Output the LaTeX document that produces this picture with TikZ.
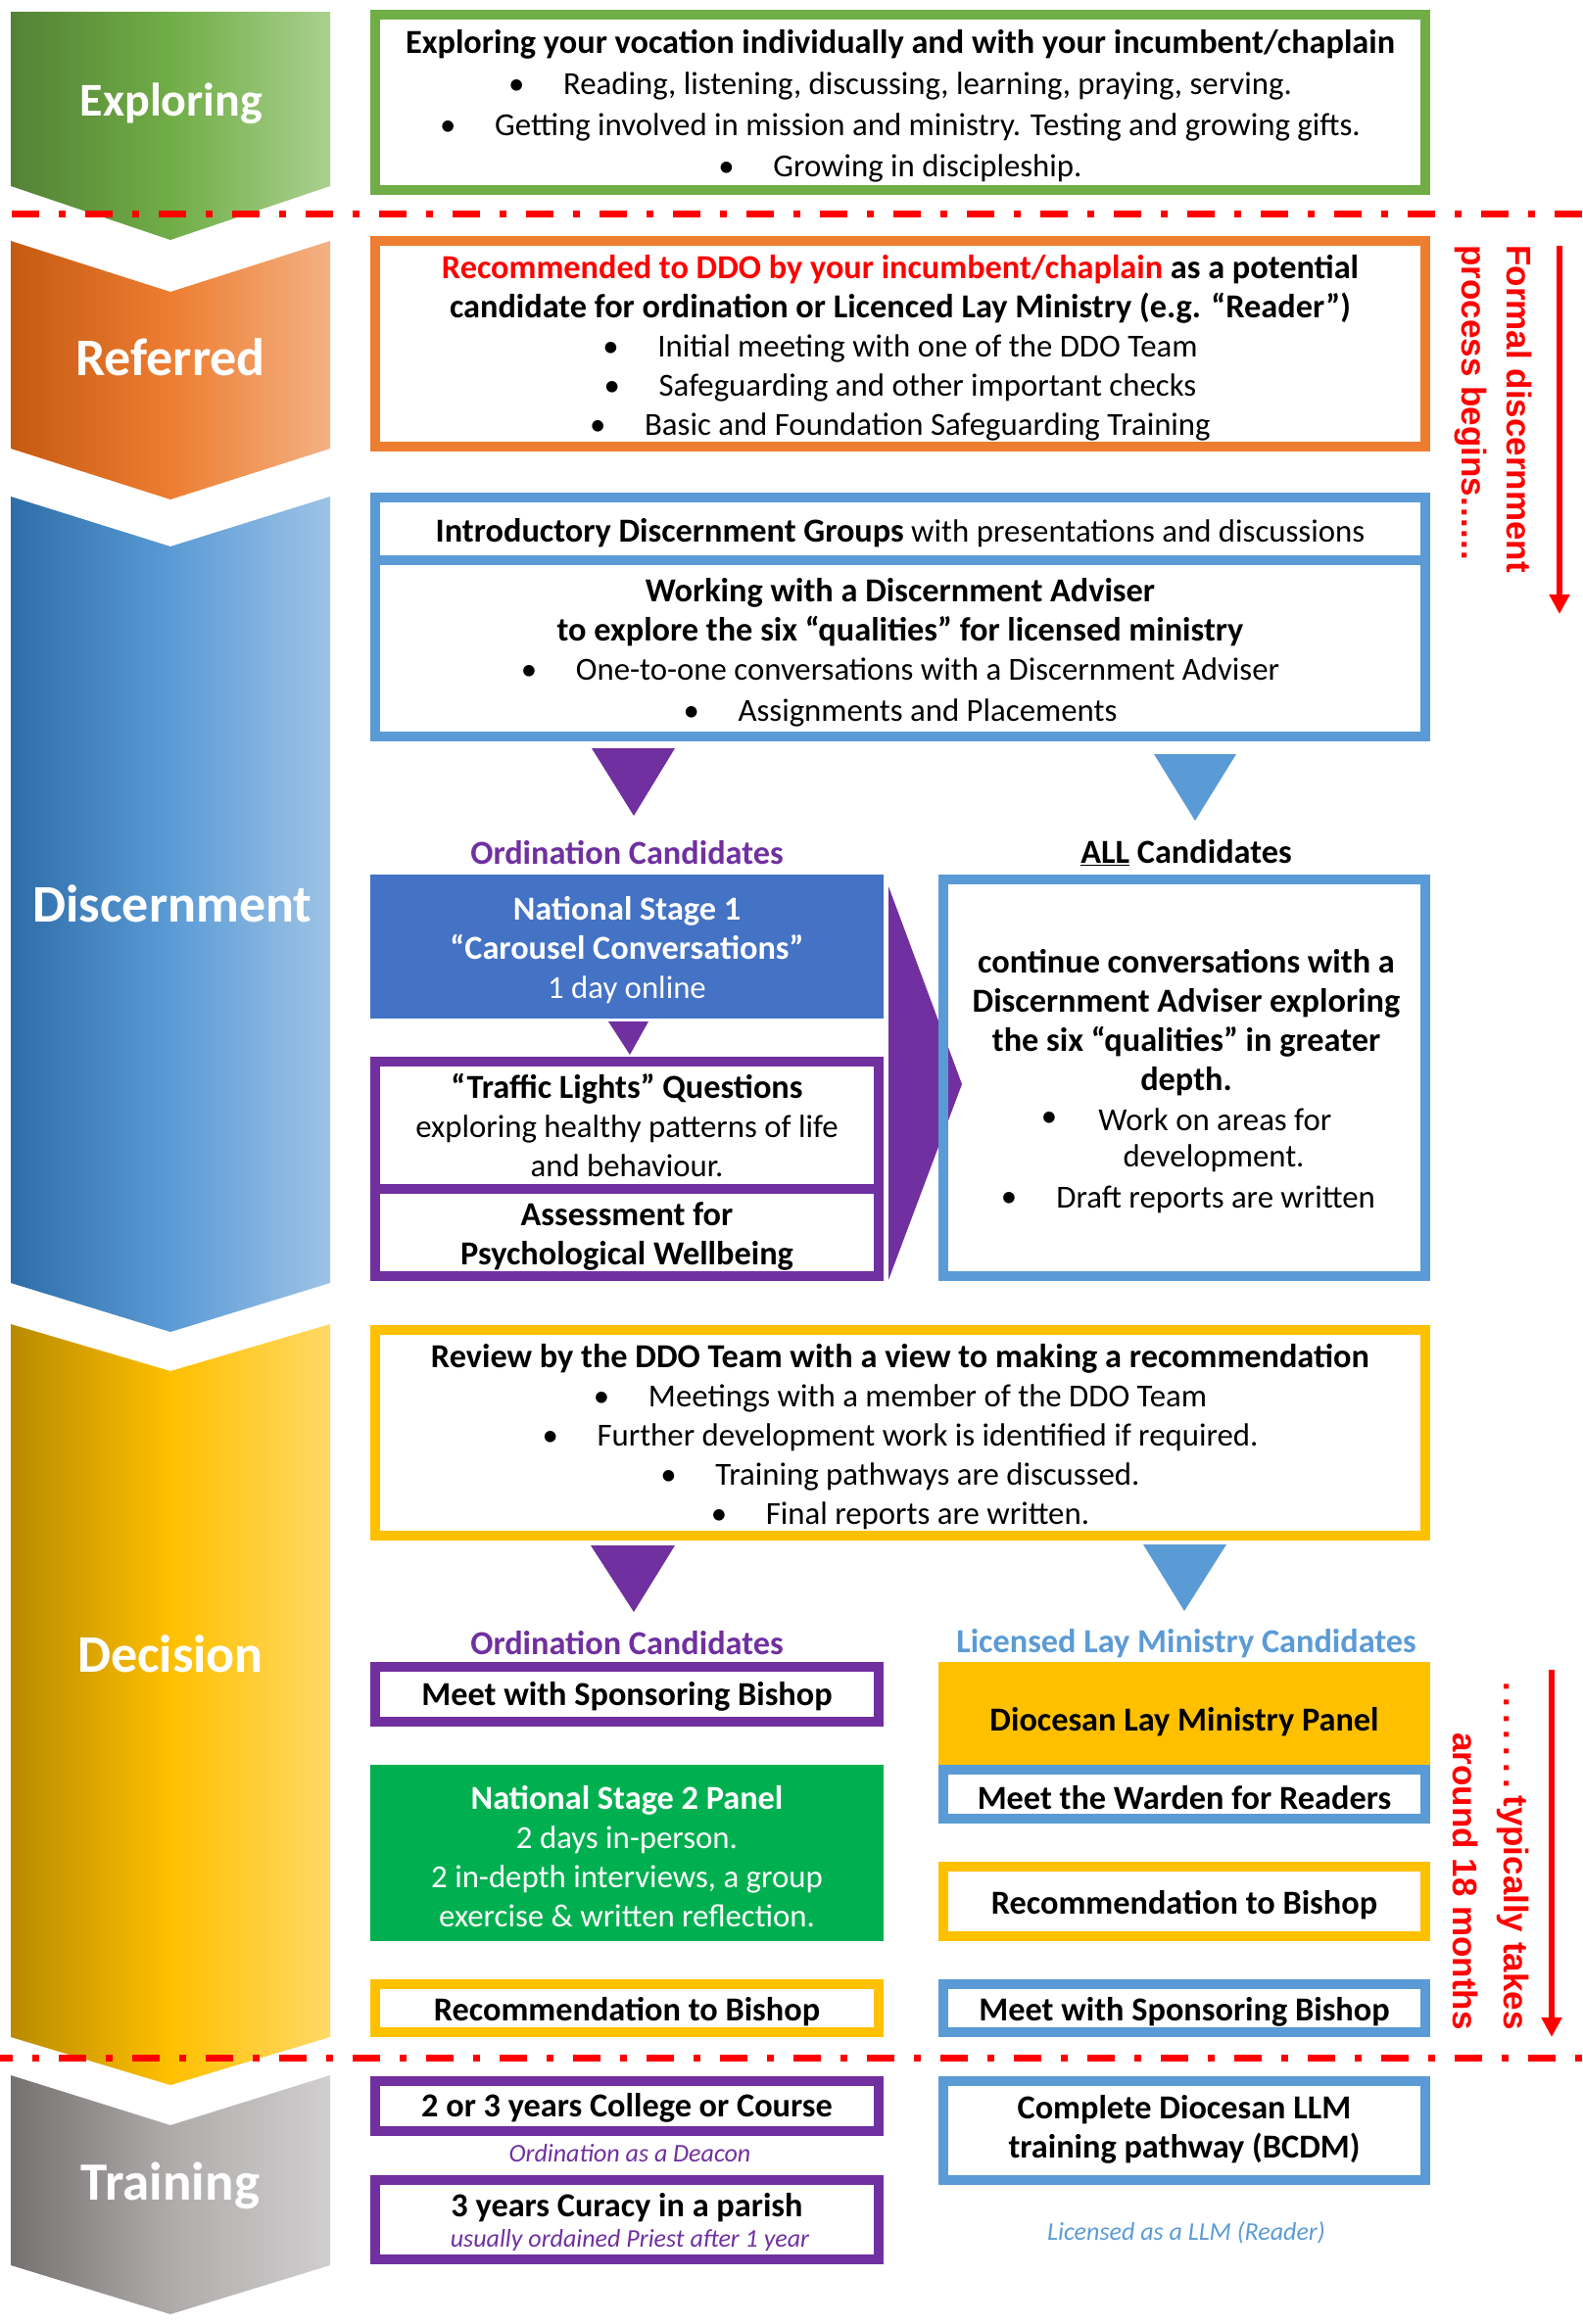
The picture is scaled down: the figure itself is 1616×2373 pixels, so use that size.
\documentclass[tikz,border=0pt]{standalone}
\usepackage{fontspec}
\setmainfont{Carlito}
\newfontfamily\arialf{Liberation Sans}
\usetikzlibrary{arrows.meta}
\definecolor{grn}{HTML}{70AD47}
\definecolor{grnL}{HTML}{548235}
\definecolor{grnR}{HTML}{A9D18E}
\definecolor{org}{HTML}{ED7D31}
\definecolor{orgL}{HTML}{C55A11}
\definecolor{orgR}{HTML}{F4B183}
\definecolor{blu}{HTML}{5B9BD5}
\definecolor{bluL}{HTML}{2E6DA8}
\definecolor{bluR}{HTML}{9DC3E6}
\definecolor{ylw}{HTML}{FFC000}
\definecolor{ylwL}{HTML}{B88A00}
\definecolor{ylwR}{HTML}{FFD966}
\definecolor{gry}{HTML}{AFABAB}
\definecolor{gryL}{HTML}{767171}
\definecolor{gryR}{HTML}{D0CECE}
\definecolor{pur}{HTML}{7030A0}
\definecolor{nsb}{HTML}{4472C4}
\definecolor{nsg}{HTML}{00B050}
\definecolor{rd}{HTML}{FF0000}
\def\bxskip{20pt}
\def\bxsh{4}
\newcommand\body{\fontsize{16.4}{20}\selectfont}
\newcommand\bodyb{\fontsize{17.15}{20}\selectfont\bfseries}
\newcommand\B[1]{{\fontsize{17.15}{\bxskip}\selectfont\bfseries #1}}
\newcommand\bul{\makebox[28pt][l]{\textbullet}}
\newcommand\rdots[2]{\foreach \i in {1,...,#1}{\makebox[#2][l]{.}}}
\newcommand\mybox[7][]{%
  \pgfmathsetmacro\bxcx{(#3+#5)/2}%
  \pgfmathsetmacro\bxcy{(#4+#6)/2}%
  \pgfmathsetmacro\bxty{(#4+#6)/2+\bxsh}%
  \pgfmathsetmacro\bxww{(#5-#3-10)*0.5}%
  \pgfmathsetmacro\bxhh{(#6-#4-10)*0.5}%
  \node[box,#1,minimum width=\bxww pt,minimum height=\bxhh pt] (#2) at (\bxcx,\bxcy) {};
  \node[txt,#1,draw=none,fill=none] (#2t) at (\bxcx,\bxty) {#7};}
\newcommand\myfill[7][]{%
  \pgfmathsetmacro\bxcx{(#3+#5)/2}%
  \pgfmathsetmacro\bxcy{(#4+#6)/2}%
  \pgfmathsetmacro\bxty{(#4+#6)/2+\bxsh}%
  \pgfmathsetmacro\bxww{(#5-#3)*0.5}%
  \pgfmathsetmacro\bxhh{(#6-#4)*0.5}%
  \node[fbox,#1,minimum width=\bxww pt,minimum height=\bxhh pt] (#2) at (\bxcx,\bxcy) {};
  \node[txt,#1,draw=none,fill=none] (#2t) at (\bxcx,\bxty) {#7};}
\tikzset{
  box/.style={draw, line width=5pt, inner sep=0pt},
  fbox/.style={draw=none, inner sep=0pt},
  txt/.style={inner sep=0pt, align=center, font=\body},
  note/.style={inner sep=0pt, font=\fontsize{13}{15}\selectfont\itshape},
  chev/.style={inner sep=0pt, anchor=base, text=white, font=\fontsize{27}{30}\selectfont\bfseries},
  rot/.style={rotate=-90, inner sep=0pt, text=rd, font=\arialf\bfseries\fontsize{17.5}{20}\selectfont},
  redarr/.style={draw=rd, line width=3pt, -{Triangle[width=10pt,length=10pt]}},
  ddash/.style={draw=rd, line width=3.5pt, dash pattern=on 14pt off 10pt on 3.5pt off 10pt},
}
\begin{document}
\begin{tikzpicture}[x=0.5pt,y=-0.5pt]
\useasboundingbox (0,0) rectangle (1616,2373);
% ---------- chevrons ----------
\shade[left color=grnL, right color=grnR, middle color=grn]
  (11,12)--(337,12)--(337,190)--(174,245)--(11,190)--cycle;
\shade[left color=orgL, right color=orgR, middle color=org]
  (11,246)--(174,298)--(337,246)--(337,458)--(174,510)--(11,458)--cycle;
\shade[left color=bluL, right color=bluR, middle color=blu]
  (11,507)--(174,558)--(337,507)--(337,1310)--(174,1360)--(11,1310)--cycle;
\shade[left color=ylwL, right color=ylwR, middle color=ylw]
  (11,1352)--(174,1400)--(337,1352)--(337,2080)--(174,2129)--(11,2080)--cycle;
\shade[left color=gryL, right color=gryR, middle color=gry]
  (11,2119)--(174,2170)--(337,2119)--(337,2313)--(174,2363)--(11,2313)--cycle;
\node[chev, font=\fontsize{24}{28}\selectfont\bfseries] (lexp) at (175,118) {Exploring};
\node[chev] (lref) at (174,383) {Referred};
\node[chev] (ldis) at (176,941) {Discernment};
\node[chev] (ldec) at (174,1707) {Decision};
\node[chev, font=\fontsize{27.5}{30}\selectfont\bfseries] (ltra) at (174,2246) {Training};
% ---------- Exploring ----------
\mybox[draw=grn, font=\def\bxskip{21pt}\fontsize{16.4}{21}\selectfont]{explbox}{378}{10}{1460}{199}{%
\B{Exploring your vocation individually and with your incumbent/chaplain}\\
\bul Reading, listening, discussing, learning, praying, serving.\\
\bul Getting involved in mission and ministry. Testing and growing gifts.\\
\bul Growing in discipleship.}
% ---------- Referred ----------
\mybox[draw=org]{refbox}{378}{241}{1460}{461}{%
\B{\textcolor{rd}{Recommended to DDO by your incumbent/chaplain} as a potential}\\
\B{candidate for ordination or Licenced Lay Ministry (e.g. “Reader”)}\\
\bul Initial meeting with one of the DDO Team\\
\bul Safeguarding and other important checks\\
\bul Basic and Foundation Safeguarding Training}
% ---------- Discernment ----------
\mybox[draw=blu]{introa}{378}{503}{1460}{577}{%
\B{Introductory Discernment Groups} with presentations and discussions}
\mybox[draw=blu]{introb}{378}{567}{1460}{757}{%
\B{Working with a Discernment Adviser}\\
\B{to explore the six “qualities” for licensed ministry}\\
\bul One-to-one conversations with a Discernment Adviser\\[1pt]
\bul Assignments and Placements}
\fill[pur] (604,764)--(689,764)--(647,833)--cycle;
\fill[blu] (1178,770)--(1262,770)--(1220,838)--cycle;
\node[txt, text=pur, font=\bodyb] (ordc1) at (640,871) {Ordination Candidates};
\node[txt, font=\bodyb] (allc) at (1211,871) {\underline{ALL} Candidates};
\myfill[fill=nsb, text=white]{ns1}{378}{893}{902}{1040}{%
\B{National Stage 1}\\ \B{“Carousel Conversations”}\\ 1 day online}
\fill[pur] (621,1043)--(662,1043)--(643,1077)--cycle;
\def\bxsh{0}
\mybox[draw=pur]{tla}{378}{1079}{902}{1219}{%
\B{“Traffic Lights” Questions}\\ exploring healthy patterns of life\\ and behaviour.}
\def\bxsh{4}
\mybox[draw=pur]{tlb}{378}{1209}{902}{1308}{%
\B{Assessment for}\\ \B{Psychological Wellbeing}}
\fill[pur] (907,905)--(982,1107)--(907,1307)--cycle;
\mybox[draw=blu]{allbox}{958}{893}{1460}{1308}{}
\node[txt, font=\bodyb] (allt) at (1211,1044) {continue conversations with a\\
Discernment Adviser exploring\\ the six “qualities” in greater\\ depth.};
\node[txt] (b1) at (1071,1143) {\textbullet};
\node[txt, anchor=west] (w1) at (1121,1143) {Work on areas for};
\node[txt] (w2) at (1239,1183) {development.};
\node[txt] (b2) at (1030,1225) {\textbullet};
\node[txt, anchor=west] (w3) at (1078,1225) {Draft reports are written};
% ---------- Decision ----------
\mybox[draw=ylw]{review}{378}{1353}{1460}{1573}{%
\B{Review by the DDO Team with a view to making a recommendation}\\
\bul Meetings with a member of the DDO Team\\
\bul Further development work is identified if required.\\
\bul Training pathways are discussed.\\
\bul Final reports are written.}
\fill[pur] (603,1578)--(689,1578)--(647,1646)--cycle;
\fill[blu] (1167,1577)--(1252,1577)--(1209,1645)--cycle;
\node[txt, text=pur, font=\bodyb] (ordc2) at (640,1678) {Ordination Candidates};
\node[txt, text=blu, font=\bodyb] (llmc) at (1211,1678) {Licensed Lay Ministry Candidates};
\def\bxsh{2}
\mybox[draw=pur]{meetl}{378}{1697}{902}{1763}{\B{Meet with Sponsoring Bishop}}
\def\bxsh{4}
\myfill[fill=ylw]{dioc}{958}{1697}{1460}{1802}{}
\node[txt, font=\bodyb] (dioct) at (1209,1758) {Diocesan Lay Ministry Panel};
\mybox[draw=blu]{warden}{958}{1802}{1460}{1862}{\B{Meet the Warden for Readers}}
\myfill[fill=nsg, text=white]{ns2}{378}{1802}{902}{1982}{%
\B{National Stage 2 Panel}\\ 2 days in-person.\\ 2 in-depth interviews, a group\\ exercise \& written reflection.}
\mybox[draw=ylw]{recr}{958}{1901}{1460}{1982}{\B{Recommendation to Bishop}}
\mybox[draw=ylw]{recl}{378}{2021}{902}{2080}{\B{Recommendation to Bishop}}
\mybox[draw=blu]{meetr}{958}{2021}{1460}{2080}{\B{Meet with Sponsoring Bishop}}
% ---------- Training ----------
\def\bxsh{2}
\mybox[draw=pur]{college}{378}{2120}{902}{2181}{\B{2 or 3 years College or Course}}
\node[note, text=pur] (deacon) at (643,2199) {Ordination as a Deacon};
\mybox[draw=pur]{curacy}{378}{2221}{902}{2312}{}
\node[txt, font=\bodyb] (curt) at (640,2254) {3 years Curacy in a parish};
\node[note, text=pur] (priest) at (643,2288) {usually ordained Priest after 1 year};
\def\bxsh{-1}
\mybox[draw=blu]{llm}{958}{2120}{1460}{2231}{\B{Complete Diocesan LLM}\\ \B{training pathway (BCDM)}}
\def\bxsh{4}
\node[note, text=blu] (licllm) at (1211,2280) {Licensed as a LLM (Reader)};
% ---------- dashed separators ----------
\coordinate (d1a) at (12,218); \coordinate (d1b) at (1616,218);
\coordinate (d2a) at (0,2101); \coordinate (d2b) at (1616,2101);
\draw[ddash] (d1a) -- (d1b);
\draw[ddash, dash phase=7.5pt] (d2a) -- (d2b);
% ---------- side notes ----------
\node[rot, anchor=base west] (fd) at (1538,250) {Formal discernment};
\node[rot, anchor=base west] (pb) at (1492,250) {process begins\rdots{6}{5.5pt}};
\coordinate (a1s) at (1592,251); \coordinate (a1e) at (1592,627);
\draw[redarr] (a1s) -- (a1e);
\node[rot, anchor=base east] (tt) at (1535,2073) {\rdots{7}{8.3pt}typically takes};
\node[rot, anchor=base east] (am) at (1483,2073) {around 18 months};
\coordinate (a2s) at (1584,1705); \coordinate (a2e) at (1584,2080);
\draw[redarr] (a2s) -- (a2e);
\end{tikzpicture}
\end{document}
